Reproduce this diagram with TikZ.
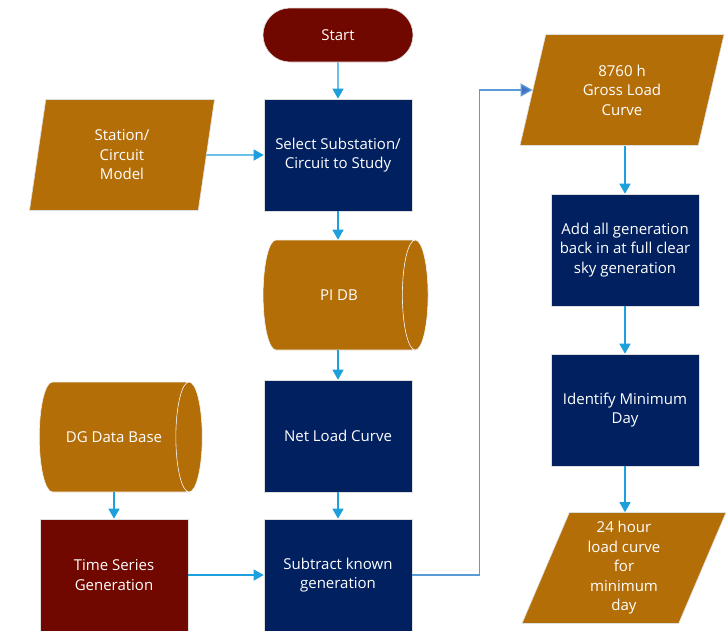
\documentclass[tikz,border=0pt]{standalone}
\usepackage{fontspec}
\setmainfont{Open Sans}
\usetikzlibrary{shapes.geometric,shapes.misc,arrows.meta}
\definecolor{navy}{RGB}{0,32,96}
\definecolor{maroon}{RGB}{112,8,0}
\definecolor{ochre}{RGB}{180,110,8}
\definecolor{flowblue}{RGB}{30,160,220}
\definecolor{linkblue}{RGB}{91,155,213}
\definecolor{tipblue}{RGB}{68,114,196}
\begin{document}
\begin{tikzpicture}[x=1pt,y=-1pt,
  base/.style = {draw=white!75!gray,semithick,text=white,align=center,inner sep=0pt,font=\fontsize{15}{19.5}\selectfont},
  proc/.style = {base,rectangle,fill=navy,minimum width=148pt,minimum height=112pt},
  redproc/.style = {proc,fill=maroon},
  term/.style = {base,rounded rectangle,fill=maroon,minimum width=150pt,minimum height=54pt},
  data/.style = {base,trapezium,trapezium stretches body,fill=ochre,minimum height=111pt},
  store/.style = {base,draw=white!90!gray,cylinder,cylinder uses custom fill,cylinder body fill=ochre,cylinder end fill=ochre,shape aspect=2.4,minimum width=110pt},
  flow/.style = {draw=flowblue,line width=1.3pt,-{Triangle[length=10pt,width=11pt]}}]
\useasboundingbox (0,0) rectangle (726,630);
% left column
\node[data,trapezium left angle=72,trapezium right angle=108,minimum width=185pt] (model) at (122,155) {Station/\\Circuit\\Model};
\node[store,minimum height=163pt] (dgdb) at (114,437) {DG Data Base};
\node[redproc] (series) at (114,575) {Time Series\\Generation};
% middle column
\node[term] (start) at (338,35) {Start};
\node[proc] (select) at (338,155) {Select Substation/\\Circuit to Study};
\node[store,minimum height=165pt] (pidb) at (339,295) {PI DB};
\node[proc] (netload) at (338,436) {Net Load Curve};
\node[proc] (subtract) at (338,575) {Subtract known\\generation};
% right column
\node[data,trapezium left angle=63,trapezium right angle=117,minimum width=204pt] (gross) at (622,90) {8760 h\\Gross Load\\Curve};
\node[proc] (addgen) at (625,250) {Add all generation\\back in at full clear\\sky generation};
\node[proc] (minday) at (625,410) {Identify Minimum\\Day};
\node[data,trapezium left angle=63,trapezium right angle=117,minimum width=204pt] (dayload) at (624,568) {24 hour\\load curve\\for\\minimum\\day};
% connectors
\draw[flow] (start) -- (select);
\draw[flow] (model.east) -- (select.west);
\draw[flow] (select.south) -- (select.south |- pidb.north);
\draw[flow] (netload.north |- pidb.south) -- (netload.north);
\draw[flow] (netload) -- (subtract);
\draw[flow] (series.north |- dgdb.south) -- (series.north);
\draw[flow] (series) -- (subtract);
\draw[draw=linkblue,line width=1.3pt,-{Triangle[length=12pt,width=13pt,fill=tipblue]}] (subtract.east) -- ++(67,0) |- (gross.west);
\draw[flow] (gross.south -| addgen.north) -- (addgen.north);
\draw[flow] (addgen) -- (minday);
\draw[flow] (minday.south) -- (minday.south |- dayload.north);
\end{tikzpicture}
\end{document}
